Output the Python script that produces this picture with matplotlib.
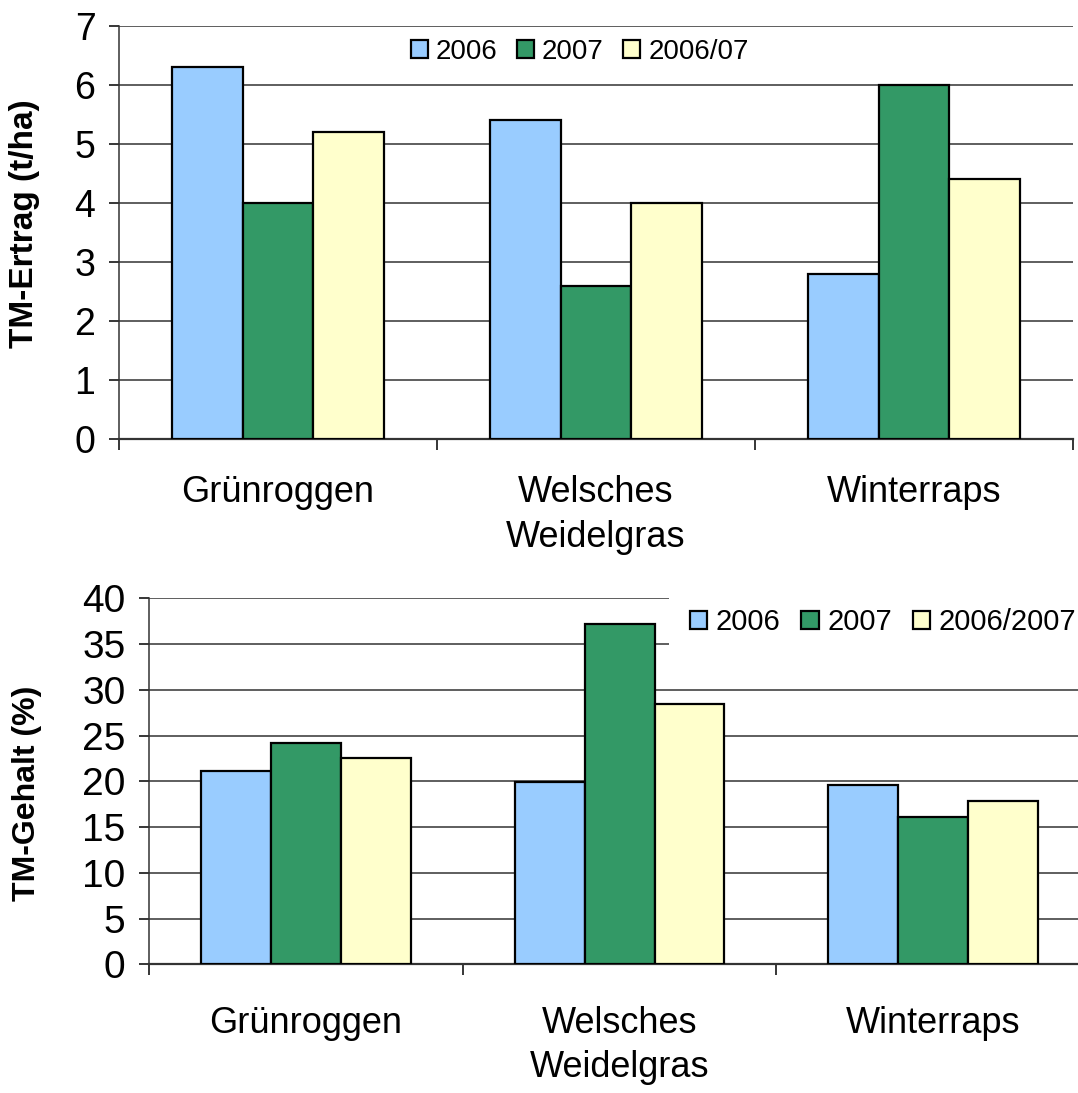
import matplotlib.pyplot as plt
import numpy as np

plt.rcParams['font.family'] = ['Liberation Sans', 'DejaVu Sans']

categories = ["Grünroggen", "Welsches\nWeidelgras", "Winterraps"]

# TM-Ertrag (t/ha)
ertrag_2006 = [6.3, 5.4, 2.8]
ertrag_2007 = [4.0, 2.6, 6.0]
ertrag_mittel = [5.2, 4.0, 4.4]
ertrag_labels = ["2006", "2007", "2006/07"]

# TM-Gehalt (%)
gehalt_2006 = [21.1, 19.9, 19.6]
gehalt_2007 = [24.2, 37.2, 16.1]
gehalt_mittel = [22.6, 28.4, 17.9]
gehalt_labels = ["2006", "2007", "2006/2007"]

colors = ['#99CCFF', '#339966', '#FFFFCC']
bar_w = 0.223

fig = plt.figure(figsize=(10.78, 10.93), dpi=100)
ax1 = fig.add_axes([0.1104, 0.5984, 0.885, 0.3779])
ax2 = fig.add_axes([0.1382, 0.1177, 0.873, 0.3349])


def draw(ax, series, labels, ymax, ystep, ylabel, tick_size, ylab_size, ylab_pos,
         label_pad, leg_size, leg_anchor, leg_frame):
    x = np.arange(len(categories))
    for i, (vals, lab) in enumerate(zip(series, labels)):
        ax.bar(x + (i - 1) * bar_w, vals, bar_w, color=colors[i], edgecolor='black',
               linewidth=1.6, label=lab, zorder=3)
    ax.set_xlim(-0.5, len(categories) - 0.5)
    ax.set_ylim(0, ymax)
    ax.set_yticks(np.arange(0, ymax + ystep / 2, ystep))
    ax.yaxis.grid(True, color='#333333', linewidth=1.1, zorder=0)
    ax.set_axisbelow(True)
    for s in ['top', 'right']:
        ax.spines[s].set_visible(False)
    ax.spines['left'].set_color('#333333')
    ax.spines['bottom'].set_color('#333333')
    ax.spines['left'].set_linewidth(1.1)
    ax.spines['bottom'].set_linewidth(1.6)
    ax.tick_params(axis='y', direction='out', length=7, width=1.1, labelsize=tick_size, pad=10)
    ax.set_xticks(x)
    ax.set_xticklabels(categories, fontsize=26, linespacing=1.35)
    ax.set_xticks(np.arange(-0.5, len(categories)), minor=True)
    ax.tick_params(axis='x', which='major', length=0, pad=label_pad)
    ax.tick_params(axis='x', which='minor', direction='out', length=8, width=1.1)
    ax.set_ylabel(ylabel, fontsize=ylab_size, fontweight='bold')
    ax.yaxis.set_label_coords(*ylab_pos)
    leg = ax.legend(loc='center', bbox_to_anchor=leg_anchor, ncol=3, fontsize=leg_size,
                    handlelength=0.6, handleheight=0.6, handletextpad=0.3,
                    columnspacing=0.7, frameon=leg_frame, borderpad=0.7)
    if leg_frame:
        leg.get_frame().set_facecolor('white')
        leg.get_frame().set_edgecolor('none')
        leg.get_frame().set_alpha(1)
    leg.set_zorder(5)


draw(ax1, [ertrag_2006, ertrag_2007, ertrag_mittel], ertrag_labels, 7, 1,
     "TM-Ertrag (t/ha)", 27, 24, (-0.083, 0.52), 26, 20, (0.483, 0.937), False)
draw(ax2, [gehalt_2006, gehalt_2007, gehalt_mittel], gehalt_labels, 40, 5,
     "TM-Gehalt (%)", 28, 23, (-0.114, 0.467), 30, 21, (0.78, 0.934), True)

fig.savefig("out.png", dpi=100)
